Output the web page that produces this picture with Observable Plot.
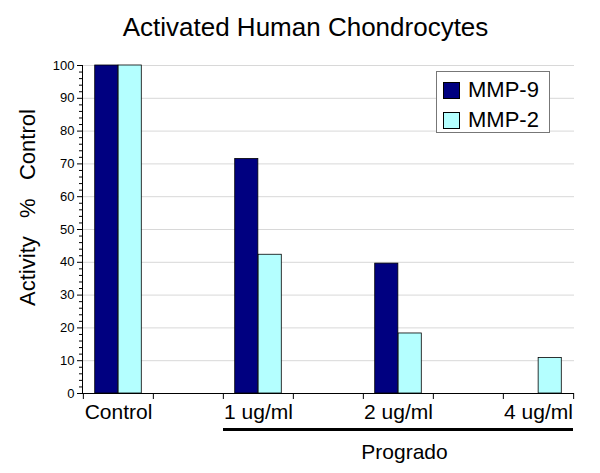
<!DOCTYPE html>
<html><head><meta charset="utf-8">
<script src="https://cdn.jsdelivr.net/npm/d3@7"></script>
<script src="https://cdn.jsdelivr.net/npm/@observablehq/plot@0.6"></script>
<style>
body{margin:0;background:#fff;font-family:"Liberation Sans",Arial,Helvetica,sans-serif}
#wrap{position:relative;width:600px;height:473px}
#legend{position:absolute;left:436px;top:71px;width:114px;height:62px;border:1px solid #777;background:#fff;box-sizing:border-box;padding:5px 0 0 6px}
.item{display:flex;align-items:center;height:26px;margin-bottom:4px;font-size:22px;color:#000}
.sw{width:15px;height:15px;border:1px solid #000;margin-right:8px}
</style></head><body><div id="wrap"></div>
<script>
const title = "Activated Human Chondrocytes";
const yLabel = "Activity\u00a0\u00a0\u00a0%\u00a0\u00a0\u00a0Control";
const categories = ["Control", "1 ug/ml", "2 ug/ml", "4 ug/ml"];
const series = ["MMP-9", "MMP-2"];
const mmp9 = [100, 71.5, 39.6, null];
const mmp2 = [100, 42.3, 18.3, 10.8];
const colors = ["#000080", "#b4ffff"];
const groupLabel = "Progrado";
const groupCats = ["1 ug/ml", "4 ug/ml"];
const yTicks = [0, 10, 20, 30, 40, 50, 60, 70, 80, 90, 100];

// slots: categories interleaved with empty gap slots
const slots = [];
categories.forEach((c, i) => { if (i > 0) slots.push("gap" + i); slots.push(c); });
const isGap = d => d.startsWith("gap");

const data = [];
categories.forEach((c, i) => {
  if (mmp9[i] != null) data.push({cat: c, series: "MMP-9", value: mmp9[i]});
  if (mmp2[i] != null) data.push({cat: c, series: "MMP-2", value: mmp2[i]});
});

const W = 600, H = 473, ML = 82, MR = 26, MT = 65, MB = 80;
const bw = (W - ML - MR) / slots.length;
const pad = bw / 6, barW = bw / 3;
const font = "Liberation Sans, Arial, Helvetica, sans-serif";
const minor = d3.range(0, 101, 2).filter(d => d % 10 !== 0);

const chart = Plot.plot({
  width: W, height: H,
  marginLeft: ML, marginRight: MR, marginTop: MT, marginBottom: MB,
  style: {fontFamily: font, background: "#fff", color: "#000"},
  x: {domain: slots, padding: 0, axis: null},
  y: {domain: [0, 100], axis: null},
  color: {domain: series, range: colors},
  marks: [
    Plot.gridY(yTicks.filter(d => d > 0), {stroke: "#d8d8d8", strokeOpacity: 1}),
    Plot.barY(data.filter(d => d.series === "MMP-9"), {x: "cat", y: "value", fill: "series", stroke: "#000", strokeWidth: 0.8, insetLeft: pad, insetRight: pad + barW}),
    Plot.barY(data.filter(d => d.series === "MMP-2"), {x: "cat", y: "value", fill: "series", stroke: "#000", strokeWidth: 0.8, insetLeft: pad + barW, insetRight: pad}),
    Plot.axisY({ticks: yTicks, tickSize: 5, tickPadding: 3, fontSize: 13, label: null}),
    Plot.axisY({ticks: minor, tickSize: 3, tickFormat: () => "", label: null}),
    Plot.ruleY([0], {stroke: "#000"}),
    Plot.frame({anchor: "left", stroke: "#000"}),
    Plot.axisX({tickSize: 0, tickPadding: 11, fontSize: 21, tickFormat: d => isGap(d) ? "" : d, label: null}),
    Plot.axisX({tickSize: 6, tickFormat: () => "", dx: -bw / 2, label: null}),
    Plot.axisX({ticks: [slots[slots.length - 1]], tickSize: 6, tickFormat: () => "", dx: bw / 2, label: null}),
    Plot.ruleY([groupLabel], {y: () => 0, x1: () => groupCats[0], x2: () => groupCats[1], dy: 36, strokeWidth: 3, stroke: "#000"}),
    Plot.text([groupLabel], {text: d => d, x: () => categories[2], y: () => 0, dy: 59, dx: 6, fontSize: 21}),
    Plot.text([title], {text: d => d, frameAnchor: "top", dy: -48, dx: -23, fontSize: 26}),
    Plot.text([yLabel], {text: d => d, frameAnchor: "left", textAnchor: "middle", rotate: -90, dx: -55, dy: -22, fontSize: 22})
  ]
});
const wrap = document.getElementById("wrap");
wrap.appendChild(chart);

const legend = document.createElement("div");
legend.id = "legend";
series.forEach((s, i) => {
  const it = document.createElement("div");
  it.className = "item";
  it.innerHTML = `<span class="sw" style="background:${colors[i]}"></span><span>${s}</span>`;
  legend.appendChild(it);
});
wrap.appendChild(legend);
</script>
</body></html>
